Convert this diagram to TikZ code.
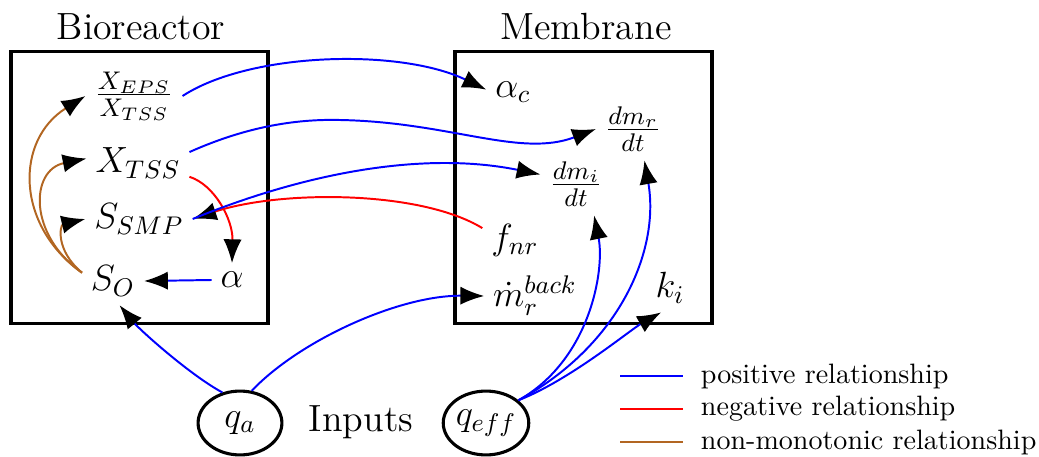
\RequirePackage{fix-cm}
\documentclass[tikz,border=0pt]{standalone}
\usetikzlibrary{arrows.meta,shapes.geometric}
\definecolor{nmcol}{RGB}{178,102,34}
\begin{document}
\begin{tikzpicture}[x=0.01253cm,y=-0.01253cm,
  boxst/.style={draw,line width=1.1pt,minimum width=3.22cm,minimum height=3.396cm,inner sep=0pt},
  lbl/.style={font=\fontsize{13}{15}\selectfont,inner sep=3pt},
  ttl/.style={font=\fontsize{13.5}{16}\selectfont,inner sep=2pt},
  inp/.style={draw,ellipse,line width=1.1pt,minimum width=1.05cm,minimum height=0.8cm,inner sep=0pt,font=\fontsize{13}{15}\selectfont},
  legt/.style={anchor=west,font=\fontsize{10}{12}\selectfont,inner sep=3pt},
  posrel/.style={blue,line width=0.7pt},
  negrel/.style={red,line width=0.7pt},
  nmonrel/.style={nmcol,line width=0.7pt},
  tiparr/.style={-{Latex[color=black,length=8.5pt,width=6.5pt]}}
]
\useasboundingbox (0,0) rectangle (1039,457);

% boxes and titles
\node[boxst] (bio) at (139.5,187.5) {};
\node[boxst] (mem) at (583.5,187.5) {};
\node[ttl] (biot) at (141,27) {Bioreactor};
\node[ttl] (memt) at (586,27) {Membrane};

% bioreactor nodes
\node[lbl] (frac) at (134,96) {$\frac{X_{EPS}}{X_{TSS}}$};
\node[lbl] (xtss) at (138,163) {$X_{TSS}$};
\node[lbl] (ssmp) at (139,219) {$S_{SMP}$};
\node[lbl] (so) at (113,281) {$S_O$};
\node[lbl] (alpha) at (232,280) {$\alpha$};

% membrane nodes
\node[lbl] (alphac) at (513,92) {$\alpha_c$};
\node[lbl] (dmr) at (633,129) {$\frac{dm_r}{dt}$};
\node[lbl] (dmi) at (576,184) {$\frac{dm_i}{dt}$};
\node[lbl] (fnr) at (515,240) {$f_{nr}$};
\node[lbl] (mback) at (535,296) {$\dot m_r^{back}$};
\node[lbl] (ki) at (670,288) {$k_i$};

% inputs
\node[inp] (qa) at (240,423) {$q_a$};
\node[inp] (qeff) at (486,423) {$q_{eff}$};
\node[ttl] (inputs) at (361,422) {Inputs};

% non-monotonic
\draw[nmonrel,tiparr] (so.165) .. controls (15,225) and (15,140) .. (frac.west);
\draw[nmonrel,tiparr] (so.165) .. controls (28,235) and (30,170) .. (xtss.175);
\draw[nmonrel,tiparr] (so.165) .. controls (55,250) and (60,225) .. (ssmp.west);

% negative
\draw[negrel,tiparr] (xtss.-15) .. controls (215,185) and (233,220) .. (alpha.north);
\draw[negrel,tiparr] (fnr.160) .. controls (420,190) and (280,190) .. (ssmp.east);

% positive
\draw[posrel,tiparr] (alpha.west) -- (so.east);
\draw[posrel,tiparr] (frac.east) .. controls (250,52) and (400,48) .. (alphac.175);
\draw[posrel,tiparr] (xtss.12) .. controls (250,125) and (300,119) .. (340,120)
   .. controls (450,122) and (520,158) .. (dmr.west);
\draw[posrel,tiparr] (ssmp.east) .. controls (300,175) and (420,150) .. (dmi.165);
\draw[posrel,tiparr] (qa.120) .. controls (190,375) and (140,330) .. (so.-75);
\draw[posrel,tiparr] (qa.70) .. controls (300,340) and (400,295) .. (mback.west);
\draw[posrel,tiparr] (qeff.35) .. controls (590,360) and (605,270) .. (dmi.-60);
\draw[posrel,tiparr] (qeff.35) .. controls (620,345) and (660,250) .. (dmr.-70);
\draw[posrel,tiparr] (qeff.35) .. controls (570,380) and (630,330) .. (ki.250);

% legend
\coordinate (l1a) at (620,376); \coordinate (l1b) at (683,376);
\coordinate (l2a) at (620,409); \coordinate (l2b) at (683,409);
\coordinate (l3a) at (620,442); \coordinate (l3b) at (683,442);
\draw[posrel] (l1a) -- (l1b);
\draw[negrel] (l2a) -- (l2b);
\draw[nmonrel] (l3a) -- (l3b);
\node[legt] (t1) at (692,376) {positive relationship};
\node[legt] (t2) at (692,409) {negative relationship};
\node[legt] (t3) at (692,442) {non-monotonic relationship};
\end{tikzpicture}
\end{document}
